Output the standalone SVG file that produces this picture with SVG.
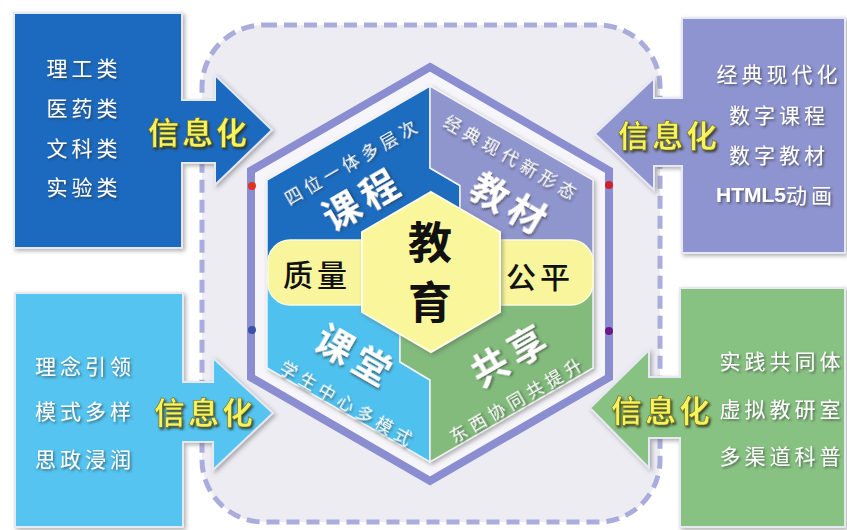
<svg xmlns="http://www.w3.org/2000/svg" width="847" height="530" viewBox="0 0 847 530">
<defs>
<filter id="sh" x="-10%" y="-10%" width="120%" height="120%"><feDropShadow dx="2" dy="2" stdDeviation="2" flood-color="#555" flood-opacity="0.45"/></filter>
<filter id="tsh" x="-20%" y="-20%" width="140%" height="140%"><feDropShadow dx="1.5" dy="1.5" stdDeviation="1" flood-color="#333" flood-opacity="0.65"/></filter>
<filter id="ysh" x="-20%" y="-20%" width="140%" height="140%"><feDropShadow dx="1.5" dy="2" stdDeviation="1.2" flood-color="#2a2a10" flood-opacity="0.8"/></filter>
<style>
.cjk{font-family:"Noto Sans CJK SC","Noto Sans",sans-serif;text-anchor:middle;dominant-baseline:central}
.list{font-size:21px;fill:#fff;letter-spacing:4px;filter:url(#tsh)}
.xxh{font-size:31px;fill:#f6f35c;letter-spacing:3px;font-weight:bold;stroke:#6b6a25;stroke-width:0.6;filter:url(#ysh)}
.big{font-size:37px;fill:#fff;font-weight:bold;letter-spacing:6px;filter:url(#tsh)}
.sub{font-size:17px;fill:#fff;letter-spacing:5px;filter:url(#tsh)}
.blk{fill:#111}
.panel{stroke:#e6e8f4;stroke-width:2;filter:url(#sh)}
.quad{stroke:#f2f2f7;stroke-width:1.5}
</style>
</defs>
<rect width="847" height="530" fill="#ffffff"/>
<g id="frame">
<rect x="202" y="25" width="458" height="497" rx="62" fill="#ececf2" stroke="#aaaddb" stroke-width="5" stroke-dasharray="13 7"/>
</g>
<g id="hexagon">
<polygon points="430,67 609,170.5 609,377.5 430,481 251,377.5 251,170.5" fill="#f6f6fa" stroke="#8a8ed0" stroke-width="8"/>
<g filter="url(#sh)">
<polygon class="quad" points="267,274 267,180 430,86 430,168 460,185.5 460,220.5 430,274" fill="#1b6cc0"/>
<polygon class="quad" points="430,86 593,180 593,274 430,274 460,220.5 460,185.5 430,168" fill="#8f95cd"/>
<polygon class="quad" points="267,274 430,274 400,327 400,362 430,380 430,462 267,368" fill="#4fc1ee"/>
<polygon class="quad" points="430,274 593,274 593,368 430,462 430,380 400,362 400,327" fill="#82bb7c"/>
</g>
<rect x="268" y="240" width="325" height="65" rx="22" fill="#f8f59c" stroke="#fbfbe0" stroke-width="1.5"/>
<polygon points="431,192 500,232 500,312 431,352 362,312 362,232" fill="#f9f69b" stroke="#fdfde8" stroke-width="2" filter="url(#sh)"/>
<circle cx="252" cy="186" r="4" fill="#e0301e"/>
<circle cx="609" cy="185" r="4" fill="#d0202a"/>
<circle cx="252" cy="330" r="4" fill="#3a4fa8"/>
<circle cx="609" cy="331" r="4" fill="#6a1a8a"/>
</g>
<g id="center">
<text class="cjk blk" x="430" y="240" font-size="44" font-weight="bold">教</text>
<text class="cjk blk" x="430" y="300" font-size="44" font-weight="bold">育</text>
<text class="cjk blk" x="317" y="273" font-size="30" font-weight="500" style="letter-spacing:4px">质量</text>
<text class="cjk blk" x="540" y="275" font-size="30" font-weight="500" style="letter-spacing:4px">公平</text>
</g>
<g id="kecheng">
<text class="cjk sub" transform="translate(352,160) rotate(-30)">四位一体多层次</text>
<text class="cjk big" transform="translate(362,197) rotate(-30)">课程</text>
</g>
<g id="jiaocai">
<text class="cjk sub" transform="translate(513,157) rotate(30)">经典现代新形态</text>
<text class="cjk big" transform="translate(512,203) rotate(30)">教材</text>
</g>
<g id="ketang">
<text class="cjk big" transform="translate(357,355) rotate(30)">课堂</text>
<text class="cjk sub" transform="translate(349,403) rotate(30)">学生中心多模式</text>
</g>
<g id="gongxiang">
<text class="cjk big" transform="translate(510,353) rotate(-30)">共享</text>
<text class="cjk sub" transform="translate(517,398) rotate(-30)">东西协同共提升</text>
</g>
<g id="panel-tl">
<path class="panel" d="M14,13 H182 V100 H215 V75 L272,130 L215,185 V163 H182 V248 H14 Z" fill="#1a6bbf"/>
<text class="cjk list" x="84" y="67">理工类</text>
<text class="cjk list" x="84" y="107">医药类</text>
<text class="cjk list" x="84" y="147">文科类</text>
<text class="cjk list" x="84" y="186">实验类</text>
<text class="cjk xxh" x="199" y="130">信息化</text>
</g>
<g id="panel-tr">
<path class="panel" d="M845,18 H682 V98 H654 V78 L595,134 L654,190 V166 H682 V253 H845 Z" fill="#8e94cf"/>
<text class="cjk list" x="779" y="73">经典现代化</text>
<text class="cjk list" x="779" y="114">数字课程</text>
<text class="cjk list" x="779" y="154">数字教材</text>
<text class="cjk list" x="776" y="194"><tspan style="font-family:'Liberation Sans',sans-serif;font-weight:bold;letter-spacing:0px">HTML5</tspan>动画</text>
<text class="cjk xxh" x="669" y="133">信息化</text>
</g>
<g id="panel-bl">
<path class="panel" d="M15,293 H183 V382 H213 V358 L273,413 L213,470 V442 H183 V527 H15 Z" fill="#55c4f0"/>
<text class="cjk list" x="85" y="365">理念引领</text>
<text class="cjk list" x="85" y="410">模式多样</text>
<text class="cjk list" x="85" y="458">思政浸润</text>
<text class="cjk xxh" x="205" y="410">信息化</text>
</g>
<g id="panel-br">
<path class="panel" d="M845,288 H680 V377 H649 V350 L590,408 L649,468 V438 H680 V527 H845 Z" fill="#88c283"/>
<text class="cjk list" x="782" y="360">实践共同体</text>
<text class="cjk list" x="782" y="408">虚拟教研室</text>
<text class="cjk list" x="782" y="455">多渠道科普</text>
<text class="cjk xxh" x="662" y="408">信息化</text>
</g>
</svg>
